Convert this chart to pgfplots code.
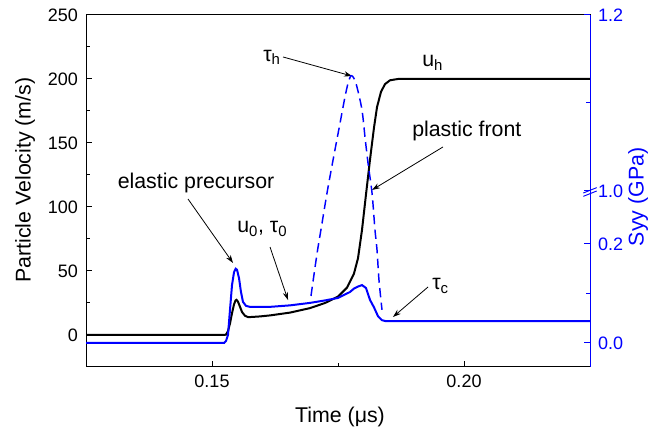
\documentclass[border=0pt]{standalone}
\usepackage{fontspec}
\setmainfont{Liberation Sans}
\usepackage{pgfplots}
\pgfplotsset{compat=1.18}
\usetikzlibrary{arrows.meta}

\newcommand\lbl{\fontsize{16}{19}\selectfont}
\newcommand\tck{\fontsize{13.5}{16}\selectfont}

\begin{document}
\begin{tikzpicture}[>={Stealth[length=6pt,width=4pt]}]
\pgfplotsset{
  common/.style={
    scale only axis, width=378pt, height=264pt,
    xmin=0.125, xmax=0.225,
    tick align=inside, major tick length=4.5pt, minor tick length=2.8pt,
    xticklabel shift=2.5pt, yticklabel shift=2.5pt,
    /pgf/number format/assume math mode=true,
    tick label style={font=\tck},
    label style={font=\lbl},
  }
}
\begin{axis}[common, name=main,
  ymin=-25, ymax=250,
  xtick={0.15,0.20}, xticklabels={0.15,0.20}, minor x tick num=1,
  ytick={0,50,...,250}, minor y tick num=1,
  xtick pos=bottom, ytick pos=left,
  axis line style={line width=0.75pt}, tick style={line width=0.75pt, black},
  xlabel={Time (μs)}, ylabel={Particle Velocity (m/s)},
  xlabel style={at={(rel axis cs:0.504,-0.142)}, anchor=center},
  ylabel style={at={(rel axis cs:-0.121,0.531)}, anchor=center},
]
% particle velocity
\addplot[black, line width=1.5pt] coordinates {
(0.125,0)(0.1524,0)(0.15278,0.3)(0.15317,3)(0.15357,9)(0.15397,17)
(0.15437,24)(0.15467,27)(0.15486,27.5)(0.15516,26)(0.15556,22)(0.15595,18)
(0.15655,15)(0.15714,14)(0.15754,14)(0.1595,14.5)(0.16151,15.3)(0.16548,17.5)
(0.16944,21)(0.17242,25)(0.17500,30)(0.17679,37)(0.17817,48)(0.17897,60)
(0.17976,82)(0.18056,110)(0.18135,137)(0.18214,162)(0.18274,178)(0.18353,190)
(0.18433,196)(0.18532,199)(0.18690,200)(0.225,200)
};
% annotations
\node[font=\lbl, anchor=base] at (axis cs:0.14683,114.8) {elastic precursor};
\draw[->, line width=0.6pt] (axis cs:0.14524,106.25) -- (axis cs:0.15417,56.25);
\node[font=\lbl, anchor=base west, inner sep=0pt] at (axis cs:0.15496,79.7) {u\textsubscript{0}, τ\textsubscript{0}};
\draw[->, line width=0.6pt] (axis cs:0.16151,68.75) -- (axis cs:0.16508,27.3);
\node[font=\lbl, anchor=base west, inner sep=0pt] at (axis cs:0.16012,214) {τ\textsubscript{h}};
\draw[->, line width=0.6pt] (axis cs:0.16409,217.2) -- (axis cs:0.17778,202.3);
\node[font=\lbl, anchor=base west, inner sep=0pt] at (axis cs:0.19167,209.4) {u\textsubscript{h}};
\node[font=\lbl, anchor=base west, inner sep=0pt] at (axis cs:0.18968,154.7) {plastic front};
\draw[->, line width=0.6pt] (axis cs:0.19583,146.9) -- (axis cs:0.18175,113.3);
\node[font=\lbl, anchor=base west, inner sep=0pt] at (axis cs:0.19365,35.2) {τ\textsubscript{c}};
\draw[->, line width=0.6pt] (axis cs:0.19286,37.5) -- (axis cs:0.18591,14.06);
\end{axis}

\begin{axis}[common,
  ymin=-0.0485, ymax=0.6626,
  axis x line=none, axis y line*=right,
  ytick={0,0.2,0.3071,0.6626}, yticklabels={0.0,0.2,1.0,1.2},
  minor ytick={0.1,0.4849},
  y axis line style={blue, line width=0.75pt},
  ytick style={blue, line width=0.75pt},
  yticklabel style={blue},
  ylabel={Syy (GPa)},
  ylabel style={blue, at={(rel axis cs:1.0952,0.483)}, anchor=center},
  y filter/.expression={y>0.6 ? 0.3071+(y-1)*1.7778 : y},
  clip=false,
]
% stress, solid
\addplot[blue, line width=1.5pt] coordinates {
(0.125,0.0)(0.1524,0.0)(0.15278,0.004)(0.15317,0.016)(0.15357,0.067)
(0.15397,0.117)(0.15437,0.143)(0.15470,0.150)(0.15496,0.148)(0.15536,0.131)
(0.15575,0.103)(0.15615,0.083)(0.15675,0.075)(0.15754,0.073)(0.16151,0.073)
(0.16548,0.076)(0.16944,0.081)(0.17242,0.086)(0.17500,0.091)(0.17738,0.103)
(0.17817,0.110)(0.17897,0.114)(0.17976,0.117)(0.18056,0.111)(0.18135,0.087)
(0.18214,0.072)(0.18294,0.054)(0.18373,0.046)(0.18452,0.044)(0.225,0.044)
};
% stress, dashed (peak beyond the axis break)
\addplot[blue, line width=1.1pt, dash pattern=on 7pt off 4pt, smooth] coordinates {
(0.16964,0.095)(0.17083,0.180)(0.17183,0.242)(0.17282,0.303)(0.17401,1.035)
(0.17540,1.077)(0.17639,1.107)(0.17698,1.122)(0.17758,1.131)(0.17817,1.128)
(0.17877,1.118)(0.17976,1.092)(0.18036,1.061)(0.18095,1.032)(0.18175,0.303)
(0.18234,0.228)(0.18274,0.188)(0.18313,0.127)(0.18373,0.067)
};
% axis break mark
\draw[blue, line width=0.7pt] ([xshift=-5pt,yshift=-4pt]rel axis cs:1,0.5) -- ++(10pt,4pt);
\draw[blue, line width=0.7pt] ([xshift=-5pt,yshift=-1.5pt]rel axis cs:1,0.5) -- ++(10pt,4pt);
\end{axis}
\pgfresetboundingbox
\path[use as bounding box] ([shift={(-64.5pt,-48pt)}]main.south west) rectangle ([shift={(60pt,11.25pt)}]main.north east);
\end{tikzpicture}
\end{document}
